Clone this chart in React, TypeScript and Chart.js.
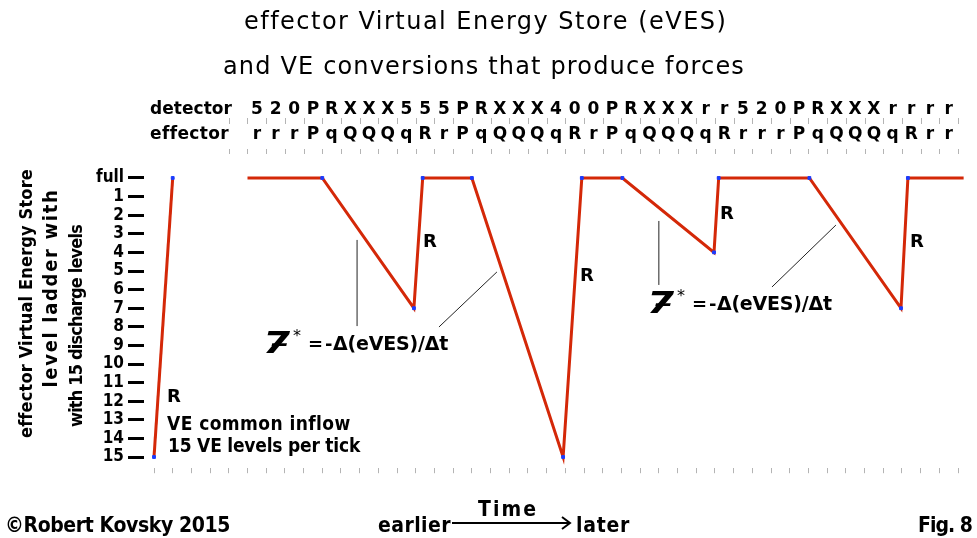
import React, { useEffect, useRef } from 'react';
import { Chart, registerables } from 'chart.js';

Chart.register(...registerables);

// ---------- data ----------
const levelLabels = ['full', '1', '2', '3', '4', '5', '6', '7', '8', '9', '10', '11', '12', '13', '14', '15'];
const lastTick = 43;
const inflowTime = [0, 1];
const inflowLevel = [15, 0];
const cycleTime = [5, 9, 13.9, 14.37, 17, 21.88, 22.88, 25.05, 29.95, 30.2, 35.05, 39.95, 40.32, 43.3];
const cycleLevel = [0, 0, 7, 0, 0, 15, 0, 0, 4, 0, 0, 7, 0, 0];
const detectorRow = '5 2 0 P R X X X 5 5 5 P R X X X 4 0 0 P R X X X r r 5 2 0 P R X X X r r r r'.split(' ');
const effectorRow = 'r r r P q Q Q Q q R r P q Q Q Q q R r P q Q Q Q q R r r r P q Q Q Q q R r r'.split(' ');
const rowStart = 5;
const titleLines = ['effector Virtual Energy Store (eVES)', 'and VE conversions that produce forces'];
const yTitleLines = ['effector Virtual Energy Store', 'level ladder with', 'with 15 discharge levels'];
const rechargeLabels = ['R', 'R', 'R', 'R', 'R'];
const inflowNotes = ['VE common inflow', '15 VE levels per tick'];
const formulaParts = ['7\u0335', '*', '=', '-', '\u0394(eVES)/\u0394t'];

// ---------- layout / style (pixels, not data) ----------
const X_MIN = -0.535;
const X_MAX = 43.32;
const Y_MIN = -0.3;
const Y_MAX = 15.6;
const RED = '#d42808';
const BLUE = '#1a3cff';
const COND = '"DejaVu Sans Condensed", "DejaVu Sans", sans-serif';
const SANS = '"DejaVu Sans", sans-serif';

// annotation anchors in (time tick, level) coordinates
const rechargePos = [
  [0.7, 12.04],
  [14.39, 3.71],
  [22.78, 5.54],
  [30.27, 2.2],
  [40.43, 3.71],
];
const notePos = [
  [0.7, 13.55, 183],
  [0.75, 14.73, 192],
];
const formulaPos = [
  [5.83, 9.25],
  [26.36, 7.1],
];
const leaderLines = [
  [10.86, 3.33, 10.86, 7.96],
  [15.24, 8.01, 18.34, 5.05],
  [27.0, 2.31, 27.0, 5.75],
  [33.05, 5.86, 36.47, 2.53],
];

function fitText(ctx: CanvasRenderingContext2D, text: string, left: number, baseline: number, width: number) {
  (ctx as any).letterSpacing = '0px';
  const w0 = ctx.measureText(text).width;
  const n = Array.from(text).length;
  const ls = (width - w0) / n;
  (ctx as any).letterSpacing = ls + 'px';
  ctx.textAlign = 'left';
  ctx.fillText(text, left, baseline);
  (ctx as any).letterSpacing = '0px';
}

const decorPlugin = {
  id: 'decor',
  afterDraw(chart: any) {
    const ctx: CanvasRenderingContext2D = chart.ctx;
    const xs = chart.scales.x;
    const ys = chart.scales.y;
    const X = (v: number) => xs.getPixelForValue(v);
    const Y = (v: number) => ys.getPixelForValue(v);
    ctx.save();
    ctx.fillStyle = '#000';
    ctx.textBaseline = 'alphabetic';

    // titles
    ctx.font = `24px ${SANS}`;
    fitText(ctx, titleLines[0], 244, 29, 483);
    fitText(ctx, titleLines[1], 223, 74, 522);

    // header rows
    ctx.font = `bold 17px ${SANS}`;
    fitText(ctx, 'detector', 150, 114, 82);
    fitText(ctx, 'effector', 150, 139, 78);
    ctx.textAlign = 'center';
    detectorRow.forEach((c, i) => ctx.fillText(c, X(rowStart + i + 0.5), 114));
    effectorRow.forEach((c, i) => ctx.fillText(c, X(rowStart + i + 0.5), 139));
    ctx.strokeStyle = '#b4b4b4';
    ctx.lineWidth = 1;
    ctx.beginPath();
    for (let k = rowStart - 1; k <= lastTick; k++) {
      const px = Math.round(X(k)) + 0.5;
      ctx.moveTo(px, 118); ctx.lineTo(px, 124);
      ctx.moveTo(px, 149); ctx.lineTo(px, 154);
    }
    ctx.stroke();

    // y title (rotated)
    ctx.font = `bold 18px ${COND}`;
    ctx.textBaseline = 'middle';
    const yt = [
      [27, 304, 268],
      [52, 288, 199],
      [77, 326, 202],
    ];
    yTitleLines.forEach((t, i) => {
      const [cx, cy, w] = yt[i];
      ctx.save();
      ctx.translate(cx, cy);
      ctx.rotate(-Math.PI / 2);
      if (i === 1) ctx.font = `bold 20px ${COND}`;
      else ctx.font = `bold 18px ${COND}`;
      fitText(ctx, t, -w / 2, 0, w);
      ctx.restore();
    });
    ctx.textBaseline = 'alphabetic';

    // recharge labels
    ctx.font = `bold 18px ${SANS}`;
    ctx.textAlign = 'left';
    rechargeLabels.forEach((t, i) => ctx.fillText(t, X(rechargePos[i][0]), Y(rechargePos[i][1])));

    // inflow notes
    ctx.font = `bold 19px ${COND}`;
    inflowNotes.forEach((t, i) => fitText(ctx, t, X(notePos[i][0]), Y(notePos[i][1]), notePos[i][2]));

    // leader lines
    ctx.strokeStyle = '#222';
    ctx.lineWidth = 1;
    leaderLines.forEach(([x1, y1, x2, y2]) => {
      ctx.beginPath();
      ctx.moveTo(X(x1), Y(y1));
      ctx.lineTo(X(x2), Y(y2));
      ctx.stroke();
    });

    // formulas
    formulaPos.forEach(([fx, fy]) => {
      const L = X(fx);
      const B = Y(fy);
      ctx.textAlign = 'left';
      ctx.save();
      ctx.translate(L, B + 3);
      ctx.scale(1.3, 1);
      ctx.font = `bold italic 30px ${SANS}`;
      ctx.fillText(formulaParts[0], 0, 0);
      ctx.restore();
      ctx.font = `16px ${SANS}`;
      ctx.fillText(formulaParts[1], L + 30, B - 9);
      ctx.font = `bold 18px ${SANS}`;
      ctx.fillText(formulaParts[2], L + 45, B);
      ctx.fillText(formulaParts[3], L + 62, B);
      ctx.font = `bold 19px ${SANS}`;
      fitText(ctx, formulaParts[4], L + 70, B, 115);
    });

    // footer
    ctx.font = `bold 21px ${COND}`;
    fitText(ctx, '\u00A9Robert Kovsky 2015', 5, 532, 225);
    fitText(ctx, 'earlier', 378, 532, 73);
    fitText(ctx, 'Time', 478, 516, 60);
    fitText(ctx, 'later', 576, 532, 54);
    fitText(ctx, 'Fig. 8', 918, 532, 54);
    ctx.strokeStyle = '#000';
    ctx.lineWidth = 2;
    ctx.beginPath();
    ctx.moveTo(452, 523);
    ctx.lineTo(570, 523);
    ctx.moveTo(562, 517);
    ctx.lineTo(570, 523);
    ctx.lineTo(562, 529);
    ctx.stroke();

    ctx.restore();
  },
};

export default function App() {
  const ref = useRef<HTMLCanvasElement>(null);
  useEffect(() => {
    const canvas = ref.current;
    if (!canvas) return;
    const lastIdx = cycleTime.length - 1;
    const chart = new Chart(canvas, {
      type: 'line',
      data: {
        datasets: [
          {
            label: 'inflow',
            data: inflowTime.map((t, i) => ({ x: t, y: inflowLevel[i] })),
            borderColor: RED,
            borderWidth: 3,
            pointRadius: 2,
            pointStyle: 'rect',
            pointBackgroundColor: BLUE,
            pointBorderColor: BLUE,
            pointBorderWidth: 1,
            clip: false as any,
          },
          {
            label: 'eVES',
            data: cycleTime.map((t, i) => ({ x: t, y: cycleLevel[i] })),
            borderColor: RED,
            borderWidth: 3,
            pointRadius: (c: any) => (c.dataIndex === 0 || c.dataIndex === lastIdx ? 0 : 2),
            pointStyle: 'rect',
            pointBackgroundColor: BLUE,
            pointBorderColor: BLUE,
            pointBorderWidth: 1,
            clip: false as any,
          },
        ],
      },
      options: {
        responsive: false,
        animation: false,
        events: [],
        layout: { padding: { left: 0, right: 13, top: 172.4, bottom: 64.8 } },
        plugins: {
          legend: { display: false },
          tooltip: { enabled: false },
          title: { display: false },
        },
        scales: {
          x: {
            type: 'linear',
            min: X_MIN,
            max: X_MAX,
            afterBuildTicks: (s: any) => {
              const t = [];
              for (let k = 0; k <= lastTick; k++) t.push({ value: k });
              s.ticks = t;
            },
            afterFit: (s: any) => {
              s.height = 5;
            },
            grid: {
              drawOnChartArea: false,
              drawTicks: true,
              tickLength: 5,
              color: '#b4b4b4',
              tickColor: '#b4b4b4',
              lineWidth: 1,
            },
            border: { display: false },
            ticks: { display: false },
          },
          y: {
            type: 'linear',
            reverse: true,
            min: Y_MIN,
            max: Y_MAX,
            afterBuildTicks: (s: any) => {
              s.ticks = levelLabels.map((_, i) => ({ value: i }));
            },
            afterFit: (s: any) => {
              s.width = 144;
            },
            grid: {
              drawOnChartArea: false,
              drawTicks: true,
              tickLength: 16,
              tickColor: '#000',
              tickWidth: 3,
            },
            border: { display: false },
            ticks: {
              autoSkip: false,
              padding: 4,
              color: '#000',
              font: { family: COND, size: 17, weight: 'bold' },
              callback: (_v: any, i: number) => levelLabels[i],
            },
          },
        },
      } as any,
      plugins: [decorPlugin],
    });
    return () => chart.destroy();
  }, []);

  return (
    <div style={{ position: 'fixed', left: 0, top: 0, width: 977, height: 538, background: '#fff' }}>
      <canvas ref={ref} width={977} height={538} style={{ display: 'block' }} />
    </div>
  );
}
